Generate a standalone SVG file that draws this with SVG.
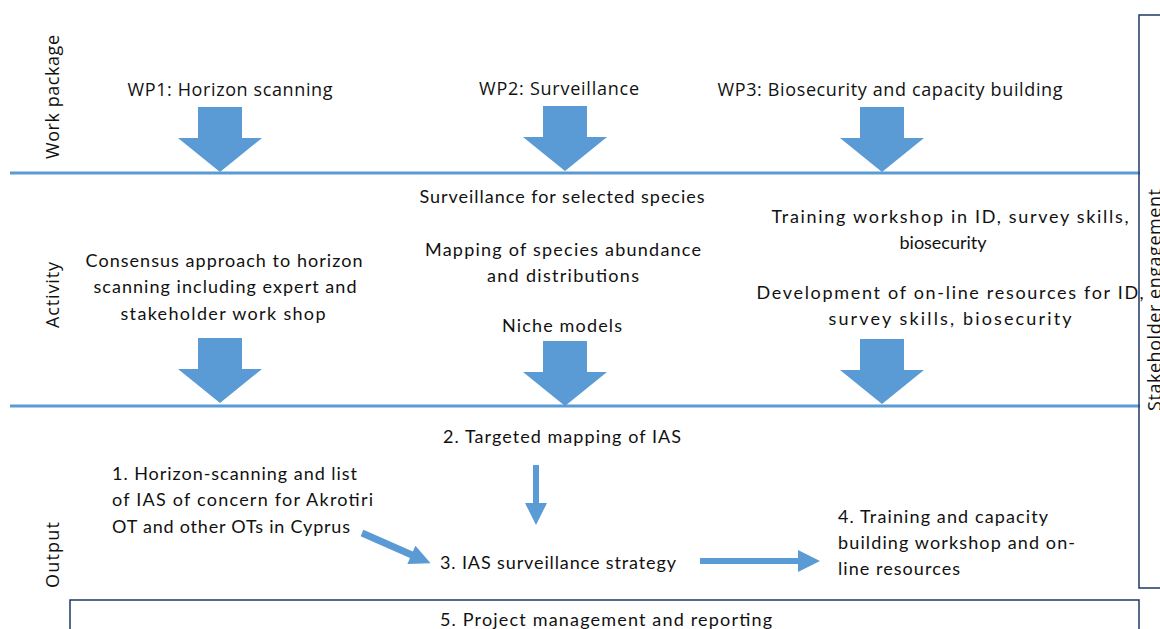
<svg xmlns="http://www.w3.org/2000/svg" width="1160" height="629" viewBox="0 0 1160 629">
<style>
.bg{fill:#fff}
.sep{stroke:#5b9bd5;stroke-width:3;fill:none}
.blk{fill:#5b9bd5}
.box{fill:none;stroke:#1f3864;stroke-width:1.5}
.seg{font-family:"Open Sans","Liberation Sans",sans-serif;font-size:18px;fill:#111}
.cal{font-family:Lato,"Liberation Sans",sans-serif;font-size:18px;fill:#111}
.mid{text-anchor:middle}
</style>
<defs>
<polygon id="bigDown" class="blk" fill="#5b9bd5" points="-22,0 22,0 22,31 42,31 0,65 -42,31 -22,31"/>
</defs>
<rect class="bg" x="0" y="0" width="1160" height="629"/>

<g id="separators">
<line class="sep" x1="10" y1="173" x2="1140" y2="173"/>
<line class="sep" x1="10" y1="406" x2="1140" y2="406"/>
</g>

<g id="row-labels">
<text class="seg mid" transform="translate(59,97) rotate(-90)" textLength="124">Work package</text>
<text class="seg mid" transform="translate(59,295) rotate(-90)" textLength="66">Activity</text>
<text class="seg mid" transform="translate(59,555) rotate(-90)" textLength="66">Output</text>
</g>

<g id="stakeholder">
<rect class="box" x="1139" y="15" width="40" height="573"/>
<text class="seg mid" transform="translate(1161,300) rotate(-90)" textLength="222">Stakeholder engagement</text>
</g>

<g id="wp1">
<text class="seg mid" x="230" y="96" textLength="205">WP1: Horizon scanning</text>
<use href="#bigDown" x="220" y="107"/>
</g>
<g id="wp2">
<text class="seg mid" x="559" y="95" textLength="160">WP2: Surveillance</text>
<use href="#bigDown" x="565" y="106"/>
</g>
<g id="wp3">
<text class="seg mid" x="890" y="96" textLength="345">WP3: Biosecurity and capacity building</text>
<use href="#bigDown" x="882" y="107"/>
</g>

<g id="activity1">
<text class="cal mid" x="224" y="267" textLength="277">Consensus approach to horizon</text>
<text class="cal mid" x="225" y="293" textLength="263">scanning including expert and</text>
<text class="cal mid" x="223" y="320" textLength="205">stakeholder work shop</text>
<use href="#bigDown" x="220" y="338"/>
</g>
<g id="activity2">
<text class="cal mid" x="562" y="203" textLength="285">Surveillance for selected species</text>
<text class="cal mid" x="563" y="256" textLength="276">Mapping of species abundance</text>
<text class="cal mid" x="563" y="282" textLength="152">and distributions</text>
<text class="cal mid" x="562" y="332" textLength="120">Niche models</text>
<use href="#bigDown" x="565" y="341"/>
</g>
<g id="activity3">
<text class="cal mid" x="950" y="223" textLength="357">Training workshop in ID, survey skills,</text>
<text class="cal mid" x="943" y="249" textLength="87">biosecurity</text>
<text class="cal mid" x="950" y="299" textLength="387">Development of on-line resources for ID,</text>
<text class="cal mid" x="950" y="325" textLength="243">survey skills, biosecurity</text>
<use href="#bigDown" x="882" y="339"/>
</g>

<g id="output1">
<text class="cal" x="112" y="480" textLength="245">1. Horizon-scanning and list</text>
<text class="cal" x="112" y="506" textLength="261">of IAS of concern for Akrotiri</text>
<text class="cal" x="112" y="533" textLength="238">OT and other OTs in Cyprus</text>
</g>
<g id="output2">
<text class="cal mid" x="562" y="443" textLength="238">2. Targeted mapping of IAS</text>
</g>
<g id="output3">
<text class="cal" x="440" y="569" textLength="236">3. IAS surveillance strategy</text>
</g>
<g id="output4">
<text class="cal" x="838" y="523" textLength="210">4. Training and capacity</text>
<text class="cal" x="838" y="549" textLength="237">building workshop and on-</text>
<text class="cal" x="838" y="575" textLength="122">line resources</text>
</g>
<g id="output5">
<rect class="box" x="70" y="600" width="1069" height="40"/>
<text class="cal" x="440" y="626" textLength="332">5. Project management and reporting</text>
</g>

<g id="connectors">
<polygon class="blk" points="533,465 539,465 539,503 547,503 536,525 525,503 533,503"/>
<g transform="translate(362,533) rotate(23.8)">
<polygon class="blk" points="0,-3.5 54,-3.5 54,-10 75,0 54,10 54,3.5 0,3.5"/>
</g>
<polygon class="blk" points="700,558 798,558 798,550 820,561 798,572 798,564 700,564"/>
</g>
</svg>
